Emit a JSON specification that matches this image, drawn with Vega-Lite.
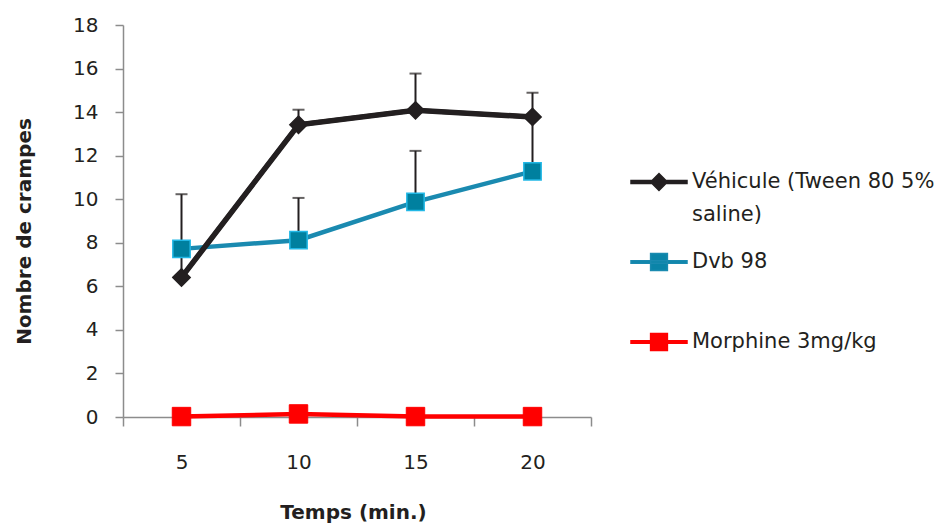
{
  "$schema": "https://vega.github.io/schema/vega-lite/v6.json",
  "width": 468,
  "height": 392,
  "autosize": {"type": "none"},
  "padding": {"left": 123, "top": 25, "right": 351, "bottom": 107},
  "background": "white",
  "config": {
    "view": {"stroke": null},
    "font": "DejaVu Sans",
    "axis": {
      "domainColor": "#8C8C8C",
      "domainWidth": 1.5,
      "tickColor": "#8C8C8C",
      "tickWidth": 1.5,
      "labelColor": "#231F20",
      "titleColor": "#231F20",
      "labelFont": "DejaVu Sans",
      "titleFont": "DejaVu Sans",
      "labelFontSize": 20,
      "titleFontSize": 20,
      "titleFontWeight": "bold",
      "grid": false
    }
  },
  "data": {
    "values": [
      {"series": "Véhicule (Tween 80 5% saline)", "time": 5, "value": 6.41, "upper": 10.23},
      {"series": "Véhicule (Tween 80 5% saline)", "time": 10, "value": 13.42, "upper": 14.11},
      {"series": "Véhicule (Tween 80 5% saline)", "time": 15, "value": 14.08, "upper": 15.77},
      {"series": "Véhicule (Tween 80 5% saline)", "time": 20, "value": 13.78, "upper": 14.89},
      {"series": "Dvb 98", "time": 5, "value": 7.72, "upper": null},
      {"series": "Dvb 98", "time": 10, "value": 8.12, "upper": 10.06},
      {"series": "Dvb 98", "time": 15, "value": 9.88, "upper": 12.22},
      {"series": "Dvb 98", "time": 20, "value": 11.28, "upper": 13.78},
      {"series": "Morphine 3mg/kg", "time": 5, "value": 0.02, "upper": null},
      {"series": "Morphine 3mg/kg", "time": 10, "value": 0.14, "upper": null},
      {"series": "Morphine 3mg/kg", "time": 15, "value": 0.02, "upper": null},
      {"series": "Morphine 3mg/kg", "time": 20, "value": 0.02, "upper": null}
    ]
  },
  "encoding": {
    "x": {
      "field": "time",
      "type": "quantitative",
      "scale": {"domain": [2.5, 22.5], "nice": false, "zero": false},
      "axis": {
        "values": [2.5, 5, 7.5, 10, 12.5, 15, 17.5, 20, 22.5],
        "labelExpr": "datum.value % 5 == 0 ? datum.label : ''",
        "tickOpacity": {"condition": {"test": "datum.value % 5 == 0", "value": 0}, "value": 1},
        "tickSize": 9,
        "labelBaseline": "alphabetic",
        "labelPadding": 42,
        "title": "Temps (min.)",
        "titleX": 230,
        "titleY": 101,
        "titleBaseline": "alphabetic",
        "titleAlign": "center"
      }
    }
  },
  "layer": [
    {
      "transform": [{"filter": "isValid(datum.upper)"}],
      "mark": {"type": "rule", "color": "#231F20", "strokeWidth": 2},
      "encoding": {
        "y": {
          "field": "value",
          "type": "quantitative",
          "scale": {"domain": [0, 18], "nice": false},
          "axis": {
            "values": [0, 2, 4, 6, 8, 10, 12, 14, 16, 18],
            "tickSize": 8,
            "labelPadding": 17,
            "title": "Nombre de crampes",
            "titleX": -99,
            "titleY": 206,
            "titleAngle": -90,
            "titleAlign": "center",
            "titleBaseline": "middle"
          }
        },
        "y2": {"field": "upper"}
      }
    },
    {
      "transform": [{"filter": "isValid(datum.upper)"}],
      "mark": {"type": "tick", "orient": "horizontal", "color": "#231F20", "size": 12, "thickness": 2},
      "encoding": {
        "y": {"field": "upper", "type": "quantitative"}
      }
    },
    {
      "mark": {"type": "line", "strokeWidth": 4.5},
      "encoding": {
        "y": {"field": "value", "type": "quantitative"},
        "color": {
          "field": "series",
          "type": "nominal",
          "scale": {
            "domain": ["Véhicule (Tween 80 5% saline)", "Dvb 98", "Morphine 3mg/kg"],
            "range": ["#231F20", "#1A8AB0", "#FF0000"]
          },
          "legend": {
            "title": null,
            "orient": "none",
            "legendX": 507,
            "legendY": 128,
            "padding": 0,
            "gridAlign": "all",
            "symbolSize": 3136,
            "symbolStrokeWidth": 1.5,
            "labelFont": "DejaVu Sans",
            "labelFontSize": 21,
            "labelColor": "#231F20",
            "labelOffset": 4,
            "labelLimit": 400,
            "rowPadding": 8,
            "labelExpr": "datum.value == 'Véhicule (Tween 80 5% saline)' ? ['Véhicule (Tween 80 5%', 'saline)'] : datum.label",
            "encode": {
              "symbols": {
                "update": {
                  "shape": {"signal": "datum.value == 'Véhicule (Tween 80 5% saline)' ? 'M-1,-0.05H1V0.05H-1ZM-0.3,0L0,-0.3L0.3,0L0,0.3Z' : 'M-1,-0.045H1V0.045H-1ZM-0.3,-0.3H0.3V0.3H-0.3Z'"},
                  "size": {"value": 3136},
                  "fill": {"signal": "datum.value == 'Dvb 98' ? '#0A84A8' : scale('color', datum.value)"},
                  "stroke": {"signal": "scale('color', datum.value)"},
                  "strokeWidth": {"value": 1.5},
                  "opacity": {"value": 1}
                }
              },
              "labels": {
                "update": {
                  "lineHeight": {"value": 33}
                }
              }
            }
          }
        }
      }
    },
    {
      "transform": [{"filter": "datum.series == 'Véhicule (Tween 80 5% saline)'"}],
      "mark": {"type": "line", "strokeWidth": 5.5, "color": "#231F20"},
      "encoding": {
        "y": {"field": "value", "type": "quantitative"}
      }
    },
    {
      "transform": [{"filter": "datum.series == 'Véhicule (Tween 80 5% saline)'"}],
      "mark": {"type": "point", "shape": "diamond", "size": 300, "filled": true, "opacity": 1, "fill": "#231F20", "stroke": "#231F20", "strokeWidth": 1.5},
      "encoding": {
        "y": {"field": "value", "type": "quantitative"}
      }
    },
    {
      "transform": [{"filter": "datum.series == 'Dvb 98'"}],
      "mark": {"type": "point", "shape": "square", "size": 300, "filled": true, "opacity": 1, "fill": "#00809F", "stroke": "#22B8E6", "strokeWidth": 1.5},
      "encoding": {
        "y": {"field": "value", "type": "quantitative"}
      }
    },
    {
      "transform": [{"filter": "datum.series == 'Morphine 3mg/kg'"}],
      "mark": {"type": "point", "shape": "square", "size": 340, "filled": true, "opacity": 1, "fill": "#FF0000", "stroke": "#FF0000", "strokeWidth": 1},
      "encoding": {
        "y": {"field": "value", "type": "quantitative"}
      }
    }
  ]
}
